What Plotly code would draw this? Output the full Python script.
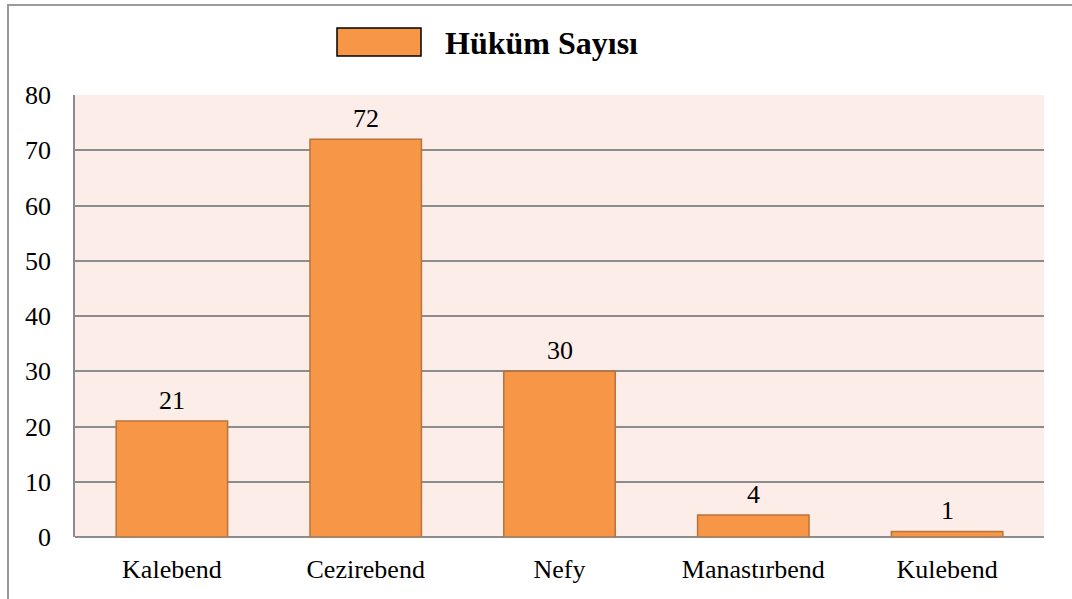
import plotly.graph_objects as go

categories = ["Kalebend", "Cezirebend", "Nefy", "Manastırbend", "Kulebend"]
values = [21, 72, 30, 4, 1]
series_name = "Hüküm Sayısı"
y_ticks = [0, 10, 20, 30, 40, 50, 60, 70, 80]

FONT = "Times New Roman"
L, R, T, B = 75, 28, 95, 62
W, H = 1072, 599
pw, ph = W - L - R, H - T - B

def px_x(x):
    return (x - L) / pw

def px_y(y):
    return (H - B - y) / ph

fig = go.Figure()
fig.add_trace(go.Bar(
    x=categories, y=values, name=series_name,
    marker=dict(color="#F79646", line=dict(color="#B8733A", width=1.5)),
    width=0.575, showlegend=False,
))

shapes = [
    dict(type="rect", xref="paper", yref="paper",
         x0=px_x(8), x1=px_x(1100), y0=px_y(640), y1=px_y(5),
         line=dict(color="#9A9A9A", width=2), fillcolor="rgba(0,0,0,0)", layer="below"),
    dict(type="rect", xref="paper", yref="paper",
         x0=px_x(337), x1=px_x(421), y0=px_y(56), y1=px_y(28),
         line=dict(color="#000000", width=1.5), fillcolor="#F79646"),
]

annotations = [
    dict(text="<b>" + series_name + "</b>", xref="paper", yref="paper",
         x=px_x(443), y=px_y(43), xanchor="left", yanchor="middle",
         showarrow=False, font=dict(family=FONT, size=32, color="#000000")),
]
for c, v in zip(categories, values):
    annotations.append(dict(
        text=str(v), x=c, y=v, xref="x", yref="y",
        xanchor="center", yanchor="bottom", yshift=4, showarrow=False,
        font=dict(family=FONT, size=26, color="#000000"),
    ))

fig.update_layout(
    width=W, height=H,
    margin=dict(l=L, r=R, t=T, b=B),
    paper_bgcolor="#FFFFFF", plot_bgcolor="#FCEDE9",
    shapes=shapes, annotations=annotations,
    showlegend=False,
    font=dict(family=FONT, size=26, color="#000000"),
)
fig.update_xaxes(
    showgrid=False, showline=False, zeroline=False,
    tickfont=dict(family=FONT, size=26, color="#000000"),
    ticks="", ticklabelstandoff=14,
)
fig.update_yaxes(
    range=[0, 80], tickvals=y_ticks,
    showgrid=True, gridcolor="#8C8C8C", gridwidth=1.5,
    showline=True, linecolor="#8C8C8C", linewidth=1.5,
    zeroline=True, zerolinecolor="#8C8C8C", zerolinewidth=1.5,
    tickfont=dict(family=FONT, size=26, color="#000000"),
    ticks="", ticklabelstandoff=17,
)

fig.write_html(
    "out.html",
    config={"displayModeBar": False},
    post_script="document.body.style.margin='0';document.body.style.overflow='hidden';",
)
